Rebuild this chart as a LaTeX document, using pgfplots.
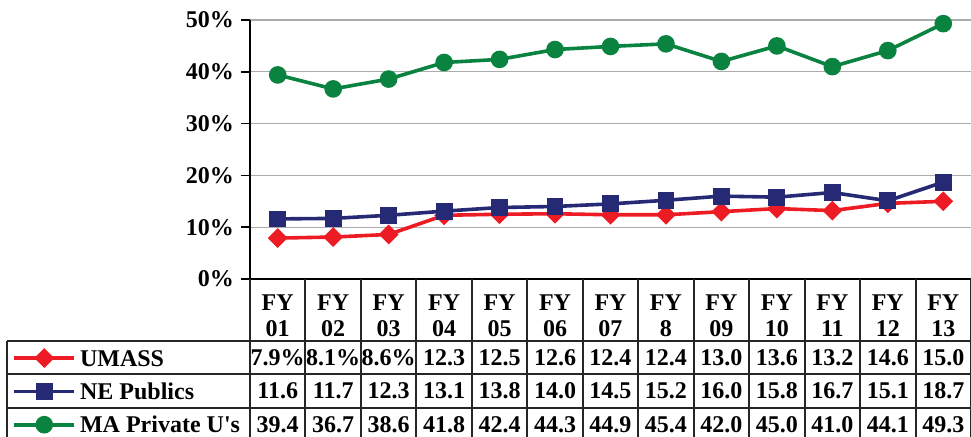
\documentclass[border=0pt]{standalone}
\usepackage{fontspec}
\setmainfont{Liberation Serif}
\usepackage{pgfplots}
\pgfplotsset{compat=1.18}
\definecolor{umred}{HTML}{ED1C24}
\definecolor{nenavy}{HTML}{262A75}
\definecolor{magreen}{HTML}{0A8240}
\newcommand\tf{\fontsize{12}{13}\selectfont\bfseries}

\begin{document}
\begin{tikzpicture}
\useasboundingbox (0,0) rectangle (485.5pt,218pt);
\begin{axis}[
    at={(125pt,78.5pt)}, anchor=south west,
    scale only axis, width=360.5pt, height=129.5pt,
    xmin=0.5, xmax=13.5, ymin=0, ymax=50,
    clip=false,
    axis x line*=bottom, axis y line*=left,
    axis line style={line width=1pt, -},
    ytick={0,10,...,50}, ymajorgrids,
    grid style={gray!65, line width=0.6pt},
    tick align=outside, major tick length=4.5pt,
    ytick style={line width=0.8pt, black},
    /pgf/number format/assume math mode=true,
    yticklabel={\pgfmathprintnumber{\tick}\%},
    yticklabel style={font=\tf},
    xtick={1,...,13}, xtick style={draw=none},
    xticklabels={FY\\01,FY\\02,FY\\03,FY\\04,FY\\05,FY\\06,FY\\07,FY\\8,FY\\09,FY\\10,FY\\11,FY\\12,FY\\13},
    xticklabel style={font=\tf, align=center, yshift=0pt},
    legend cell align=left,
    legend style={at={(-0.330,-0.273)}, anchor=north west, draw=none, fill=none,
        inner sep=0pt, row sep=8.65pt, column sep=2pt, font=\tf,
        nodes={inner sep=0pt, text height=8pt, text depth=0pt}},
    legend image code/.code={\draw[mark repeat=2,mark phase=2,#1]
        plot coordinates {(0pt,0pt)(15pt,0pt)(30pt,0pt)};},
    table cell/.style={forget plot, draw=none, mark=none,
        point meta=explicit symbolic, nodes near coords,
        nodes near coords align={center},
        every node near coord/.append style={font=\tf, inner sep=0pt, text=black}},
]
\addplot[umred, line width=1.8pt, mark=square*, mark size=2.6pt,
    mark options={solid, rotate=45}] coordinates {
    (1,7.9)(2,8.1)(3,8.6)(4,12.3)(5,12.5)(6,12.6)(7,12.4)
    (8,12.4)(9,13.0)(10,13.6)(11,13.2)(12,14.6)(13,15.0)};
\addlegendentry{UMASS}
\addplot[nenavy, line width=1.8pt, mark=square*, mark size=3.3pt,
    mark options={solid}] coordinates {
    (1,11.6)(2,11.7)(3,12.3)(4,13.1)(5,13.8)(6,14.0)(7,14.5)
    (8,15.2)(9,16.0)(10,15.8)(11,16.7)(12,15.1)(13,18.7)};
\addlegendentry{NE Publics}
\addplot[magreen, line width=1.8pt, mark=*, mark size=3.5pt,
    mark options={solid}] coordinates {
    (1,39.4)(2,36.7)(3,38.6)(4,41.8)(5,42.4)(6,44.3)(7,44.9)
    (8,45.4)(9,42.0)(10,45.0)(11,41.0)(12,44.1)(13,49.3)};
\addlegendentry{MA Private U\textquotesingle s}

% data table values
\addplot[table cell] coordinates {
    (1,-15.19)[7.9\%] (2,-15.19)[8.1\%] (3,-15.19)[8.6\%] (4,-15.19)[12.3]
    (5,-15.19)[12.5] (6,-15.19)[12.6] (7,-15.19)[12.4] (8,-15.19)[12.4]
    (9,-15.19)[13.0] (10,-15.19)[13.6] (11,-15.19)[13.2] (12,-15.19)[14.6]
    (13,-15.19)[15.0]};
\addplot[table cell] coordinates {
    (1,-21.62)[11.6] (2,-21.62)[11.7] (3,-21.62)[12.3] (4,-21.62)[13.1]
    (5,-21.62)[13.8] (6,-21.62)[14.0] (7,-21.62)[14.5] (8,-21.62)[15.2]
    (9,-21.62)[16.0] (10,-21.62)[15.8] (11,-21.62)[16.7] (12,-21.62)[15.1]
    (13,-21.62)[18.7]};
\addplot[table cell] coordinates {
    (1,-28.05)[39.4] (2,-28.05)[36.7] (3,-28.05)[38.6] (4,-28.05)[41.8]
    (5,-28.05)[42.4] (6,-28.05)[44.3] (7,-28.05)[44.9] (8,-28.05)[45.4]
    (9,-28.05)[42.0] (10,-28.05)[45.0] (11,-28.05)[41.0] (12,-28.05)[44.1]
    (13,-28.05)[49.3]};

% data table grid
\pgfplotsinvokeforeach{0.5,1.5,...,13.5}{
    \draw[line width=1pt, black!85] (axis cs:#1,0) -- (axis cs:#1,-31.3);
}
\draw[line width=1pt, black!85] (axis cs:-3.88,-11.97) -- (axis cs:-3.88,-31.3);
\pgfplotsinvokeforeach{-11.97,-18.40,-24.85}{
    \draw[line width=1pt, black!85] (axis cs:-3.88,#1) -- (axis cs:13.5,#1);
}
\end{axis}
\end{tikzpicture}
\end{document}
